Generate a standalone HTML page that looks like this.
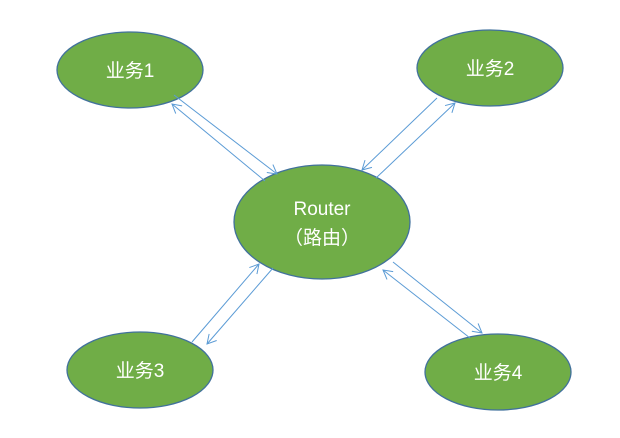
<!DOCTYPE html>
<html><head><meta charset="utf-8"><style>html,body{margin:0;padding:0;background:#fff}</style></head>
<body>
<svg width="620" height="433" viewBox="0 0 620 433" xmlns="http://www.w3.org/2000/svg">
<defs><marker id="a" markerWidth="12" markerHeight="12" refX="10" refY="6" orient="auto" markerUnits="userSpaceOnUse"><path d="M1,1 L10,6 L1,11" fill="none" stroke="#5b9bd5" stroke-width="1"/></marker></defs>
<g fill="#70ad47" stroke="#41719c" stroke-width="1.3">
<ellipse cx="130" cy="70" rx="73" ry="38"/>
<ellipse cx="490" cy="68" rx="73" ry="38"/>
<ellipse cx="322" cy="222" rx="88" ry="57"/>
<ellipse cx="140" cy="370" rx="73" ry="38"/>
<ellipse cx="498" cy="372" rx="73" ry="38"/>
</g>
<g stroke="#5b9bd5" stroke-width="1" marker-end="url(#a)">
<line x1="174" y1="95" x2="277" y2="174"/>
<line x1="265" y1="181" x2="172" y2="104"/>
<line x1="437" y1="98" x2="362" y2="170"/>
<line x1="376" y1="178" x2="455" y2="103"/>
<line x1="192" y1="342" x2="259" y2="264"/>
<line x1="273" y1="268" x2="207" y2="344"/>
<line x1="393" y1="262" x2="482" y2="333"/>
<line x1="470" y1="338" x2="383" y2="270"/>
</g>
<g fill="#fff" font-family="Liberation Sans, Noto Sans CJK SC, sans-serif" font-size="19" text-anchor="middle">
<text x="130" y="77">业务1</text>
<text x="490" y="75">业务2</text>
<text x="140" y="377">业务3</text>
<text x="498" y="379">业务4</text>
<text x="322" y="215">Router</text>
<text x="322" y="244">（路由）</text>
</g>
</svg>
</body></html>
